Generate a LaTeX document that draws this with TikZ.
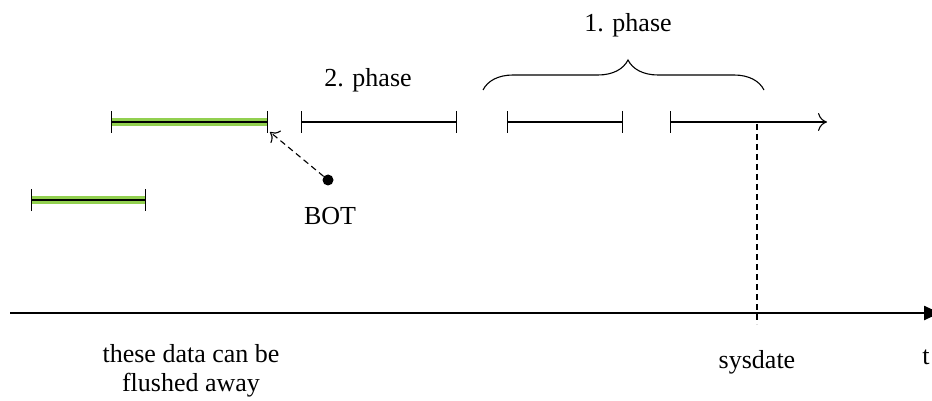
\documentclass[tikz,border=0pt]{standalone}
\usepackage{fontspec}
\setmainfont{Liberation Serif}
\usetikzlibrary{arrows.meta,decorations.pathreplacing}
\definecolor{bargreen}{RGB}{146,208,80}
\tikzset{
  ival/.style={line width=1.1pt,{Bar[width=22pt,line width=1.1pt]}-{Bar[width=22pt,line width=1.1pt]}},
  ivalopen/.style={line width=1.1pt,{Bar[width=22pt,line width=1.1pt]}-{To[length=9pt,width=18pt,line width=1.1pt]}},
  greenband/.style={bargreen,line width=8pt},
  lbl/.style={font=\fontsize{26}{29}\selectfont,inner sep=0pt,align=center},
  dsh/.style={dash pattern=on 6pt off 4pt,line width=1.1pt},
}
\begin{document}
\begin{tikzpicture}[x=1pt,y=-1pt]
\useasboundingbox (0,0) rectangle (932,401);
% coordinates
\coordinate (g1a) at (111,122); \coordinate (g1b) at (268,122);
\coordinate (g2a) at (31,200);  \coordinate (g2b) at (146,200);
\coordinate (p2a) at (301,122); \coordinate (p2b) at (457,122);
\coordinate (p1a) at (507,122); \coordinate (p1b) at (623,122);
\coordinate (p0a) at (670,122); \coordinate (p0b) at (827,122);
\coordinate (bra) at (483,90);  \coordinate (brb) at (764,90);
\coordinate (axa) at (10,313);  \coordinate (axb) at (940,313);
\coordinate (sysT) at (757,124); \coordinate (sysB) at (757,324);
\coordinate (botT) at (270,132);
% green intervals
\draw[greenband] (g1a) -- (g1b);
\draw[greenband] (g2a) -- (g2b);
\draw[ival] (g1a) -- (g1b);
\draw[ival] (g2a) -- (g2b);
% phases
\draw[ival] (p2a) -- (p2b);
\draw[ival] (p1a) -- (p1b);
\draw[ivalopen] (p0a) -- (p0b);
% brace
\draw[line width=1.1pt,decorate,decoration={brace,amplitude=30pt,aspect=0.516}] (bra) -- (brb);
\node[lbl] (ph1) at (628,25) {1. phase};
\node[lbl] (ph2) at (368,80) {2. phase};
% BOT
\node[circle,fill=black,inner sep=0pt,minimum size=11pt] (bot) at (328,180) {};
\node[lbl] (botl) at (330,216) {BOT};
\draw[dsh,-{To[length=8pt,width=16pt,line width=1.1pt]}] (bot) -- (botT);
% time axis
\draw[line width=2.4pt,-{Triangle[length=16pt,width=14pt]}] (axa) -- (axb);
\draw[dsh] (sysT) -- (sysB);
\node[lbl] (sys) at (757,362) {sysdate};
\node[lbl] (t) at (926,357) {t};
\node[lbl] (flush) at (191,371) {these data can be\\flushed away};
\end{tikzpicture}
\end{document}
